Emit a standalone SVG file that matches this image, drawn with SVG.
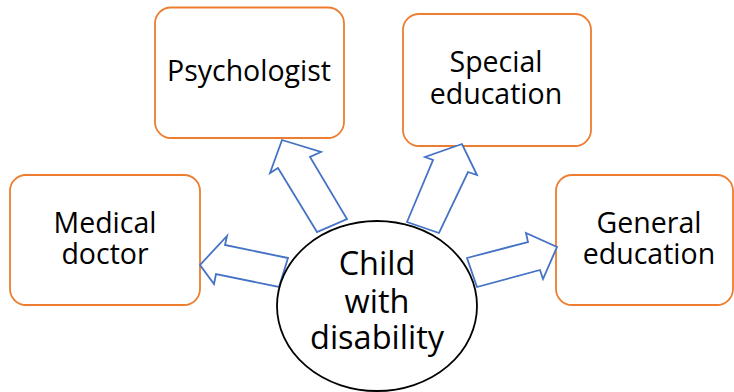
<svg xmlns="http://www.w3.org/2000/svg" width="734" height="392" viewBox="0 0 734 392">
<style>
.box{fill:#fff;stroke:#ED7D31;stroke-width:1.8}
.arr{fill:#fff;stroke:#4472C4;stroke-width:1.8;stroke-linejoin:miter}
.t{font-family:"Open Sans","Noto Sans",sans-serif;font-size:28.5px;fill:#000;text-anchor:middle}
.c{font-size:32.5px}
</style>
<rect width="734" height="392" fill="#fff"/>
<g id="psychologist"><rect class="box" x="155" y="7.5" width="189" height="130.5" rx="16"/><text class="t" x="249" y="81">Psychologist</text></g>
<g id="special-education"><rect class="box" x="403" y="14" width="188" height="132" rx="16"/><text class="t" x="496" y="72">Special</text><text class="t" x="496" y="104">education</text></g>
<g id="medical-doctor"><rect class="box" x="10" y="175" width="190" height="130" rx="16"/><text class="t" x="105" y="233">Medical</text><text class="t" x="105" y="264">doctor</text></g>
<g id="general-education"><rect class="box" x="556" y="175" width="177" height="130" rx="16"/><text class="t" x="649" y="233">General</text><text class="t" x="649" y="264">education</text></g>
<g id="connectors">
<polygon class="arr" points="317,232 278,168 270,173 282,140 321,152 310,157 347,219"/>
<polygon class="arr" points="288,258 225,245 227,236 200,265 214,284 216,274 279,287"/>
<polygon class="arr" points="407,222 433,160 425,157 462,144 477,175 468,172 439,233"/>
<polygon class="arr" points="467,258 528,242 526,233 557,247 543,279 540,270 477,287"/>
</g>
<g id="child"><ellipse cx="377" cy="306" rx="100" ry="85" fill="#fff" stroke="#000" stroke-width="1.8"/><text class="t c" x="377" y="275">Child</text><text class="t c" x="377" y="313">with</text><text class="t c" x="377" y="349">disability</text></g>
</svg>
